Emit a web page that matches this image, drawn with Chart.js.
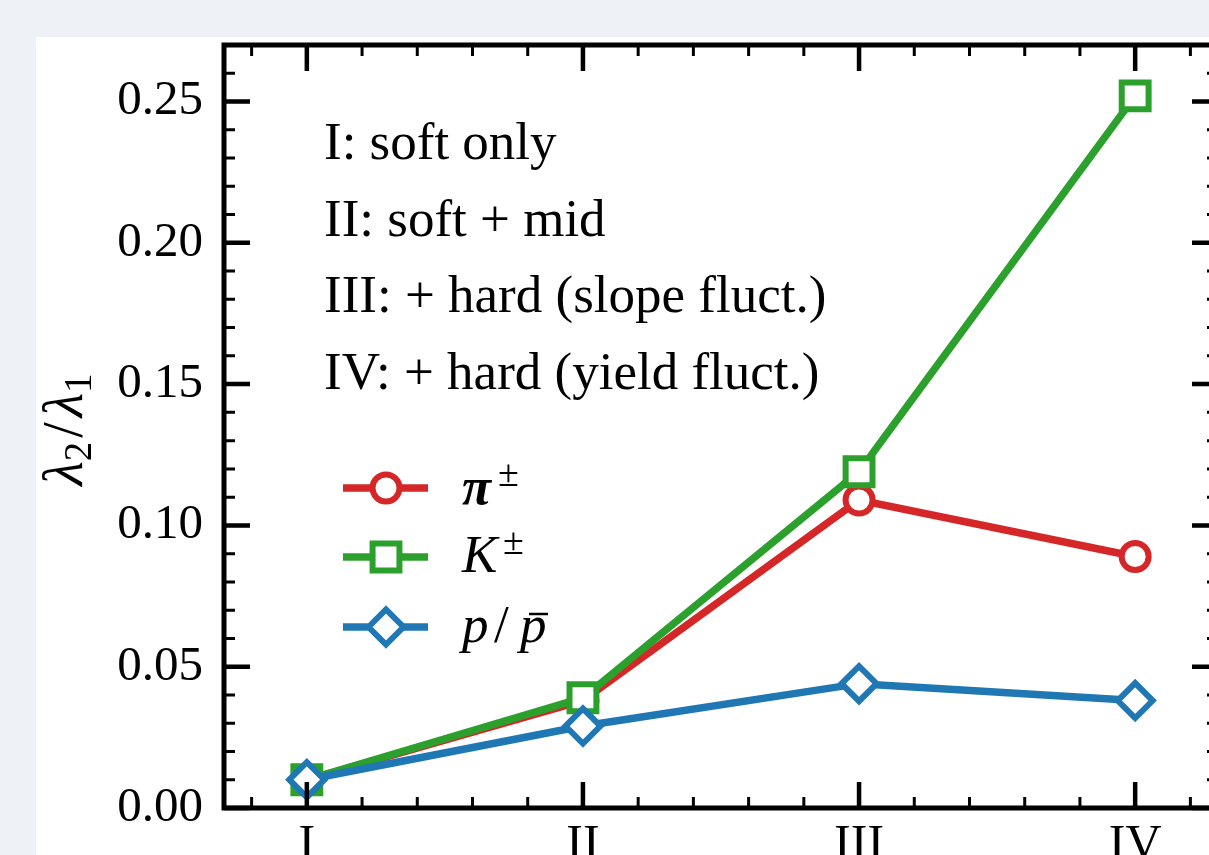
<!DOCTYPE html>
<html>
<head>
<meta charset="utf-8">
<script src="https://cdn.jsdelivr.net/npm/chart.js@4.4.1/dist/chart.umd.min.js"></script>
<style>
  html, body { margin: 0; padding: 0; background: #eef2f6; overflow: hidden; }
  .card { position: absolute; left: 36px; top: 37px; width: 1240px; height: 880px; background: #fff; }
  canvas { display: block; }
</style>
</head>
<body>
<div class="card"><canvas id="chart" width="1220" height="860"></canvas></div>
<script>
// stages of the model and ratio lambda2/lambda1 per species
const stages = ['I', 'II', 'III', 'IV'];
const stagePos = [0, 1, 2, 3];
const pionValues = [0.010, 0.038, 0.109, 0.089];
const kaonValues = [0.010, 0.039, 0.119, 0.252];
const protonValues = [0.010, 0.029, 0.044, 0.038];
const yTicks = [0, 0.05, 0.10, 0.15, 0.20, 0.25];
const notes = [
    'I: soft only',
    'II: soft + mid',
    'III: + hard (slope fluct.)',
    'IV: + hard (yield fluct.)'
];

const SERIF = '"Liberation Serif", "Times New Roman", serif';
const RED = '#d62728', GREEN = '#2ca02c', BLUE = '#1f77b4';

function toPoints(values) {
    return values.map((v, i) => ({ x: stagePos[i], y: v }));
}

function series(label, values, color, style, radius, order) {
    return {
        label: label,
        data: toPoints(values),
        borderColor: color,
        borderWidth: 7.5,
        pointStyle: style,
        pointRadius: radius,
        pointBorderWidth: 6,
        pointBackgroundColor: '#fff',
        pointBorderColor: color,
        tension: 0,
        order: order,
        clip: false
    };
}

const datasets = [
    series('pi', pionValues, RED, 'circle', 13.5, 2),
    series('K', kaonValues, GREEN, 'rect', 19, 1),
    series('p', protonValues, BLUE, 'rectRot', 17.5, 0)
];

// axes frame with inward ticks on all four sides
const framePlugin = {
    id: 'frame',
    afterDatasetsDraw(chart) {
        const { ctx, chartArea: a, scales: { x, y } } = chart;
        ctx.save();
        ctx.strokeStyle = '#000';
        ctx.lineCap = 'butt';

        const vTick = (px, len) => {
            ctx.beginPath();
            ctx.moveTo(px, a.bottom); ctx.lineTo(px, a.bottom - len);
            ctx.moveTo(px, a.top); ctx.lineTo(px, a.top + len);
            ctx.stroke();
        };
        const hTick = (py, len) => {
            ctx.beginPath();
            ctx.moveTo(a.left, py); ctx.lineTo(a.left + len, py);
            ctx.moveTo(a.right, py); ctx.lineTo(a.right - len, py);
            ctx.stroke();
        };

        // minor
        ctx.lineWidth = 3;
        for (let k = -1; k <= 16; k++) {
            if (k % 5 === 0) continue;
            vTick(x.getPixelForValue(k * 0.2), 11);
        }
        for (let k = 1; k <= 26; k++) {
            if (k % 5 === 0) continue;
            hTick(y.getPixelForValue(k * 0.01), 11);
        }
        // major
        ctx.lineWidth = 4.5;
        stagePos.forEach(v => vTick(x.getPixelForValue(v), 26));
        yTicks.forEach(v => hTick(y.getPixelForValue(v), 26));

        ctx.lineWidth = 5;
        ctx.strokeRect(a.left, a.top, a.right - a.left, a.bottom - a.top);
        ctx.restore();
    }
};

// stage notes, legend and y label
const textPlugin = {
    id: 'texts',
    afterDraw(chart) {
        const { ctx, chartArea: a } = chart;
        ctx.save();
        ctx.fillStyle = '#000';
        ctx.textBaseline = 'alphabetic';
        ctx.textAlign = 'left';

        ctx.font = '53px ' + SERIF;
        notes.forEach((t, i) => ctx.fillText(t, a.left + 100, a.top + 114 + i * 76.5));

        // legend
        const rows = [
            { ds: datasets[0], y: a.top + 443 },
            { ds: datasets[1], y: a.top + 512 },
            { ds: datasets[2], y: a.top + 582 }
        ];
        rows.forEach(r => {
            ctx.strokeStyle = r.ds.borderColor;
            ctx.lineWidth = 7.5;
            ctx.beginPath();
            ctx.moveTo(a.left + 119, r.y);
            ctx.lineTo(a.left + 204, r.y);
            ctx.stroke();
            ctx.fillStyle = '#fff';
            ctx.lineWidth = 6;
            Chart.helpers.drawPoint(ctx, {
                pointStyle: r.ds.pointStyle,
                radius: r.ds.pointRadius,
                rotation: 0,
                borderWidth: 6
            }, a.left + 162, r.y);
        });

        ctx.fillStyle = '#000';
        const tx = a.left + 238;
        // pi
        ctx.font = 'italic bold 53px ' + SERIF;
        ctx.fillText('\u03c0', tx, rows[0].y + 16);
        ctx.font = '38px ' + SERIF;
        ctx.fillText('\u00b1', tx + 36, rows[0].y - 2);
        // K
        ctx.font = 'italic 53px ' + SERIF;
        ctx.fillText('K', tx, rows[1].y + 15);
        ctx.font = '38px ' + SERIF;
        ctx.fillText('\u00b1', tx + 41, rows[1].y - 3);
        // p / pbar
        ctx.font = 'italic 53px ' + SERIF;
        ctx.fillText('p', tx, rows[2].y + 15);
        ctx.font = '53px ' + SERIF;
        ctx.fillText('/', tx + 32, rows[2].y + 15);
        ctx.font = 'italic 53px ' + SERIF;
        ctx.fillText('p', tx + 58, rows[2].y + 15);
        ctx.lineWidth = 2.5;
        ctx.strokeStyle = '#000';
        ctx.beginPath();
        ctx.moveTo(tx + 67, rows[2].y - 13);
        ctx.lineTo(tx + 86, rows[2].y - 13);
        ctx.stroke();

        // y label: lambda_2 / lambda_1
        const parts = [
            { t: '\u03bb', f: 'italic 56px ' + SERIF, dy: 0, gap: 0 },
            { t: '2', f: '39px ' + SERIF, dy: 9, gap: 4 },
            { t: '/', f: '56px ' + SERIF, dy: 0, gap: 5 },
            { t: '\u03bb', f: 'italic 56px ' + SERIF, dy: 0, gap: 0 },
            { t: '1', f: '39px ' + SERIF, dy: 9, gap: 0 }
        ];
        let total = 0;
        parts.forEach(p => { ctx.font = p.f; p.w = ctx.measureText(p.t).width; total += p.w + p.gap; });
        ctx.translate(46, (a.top + a.bottom) / 2 + 3);
        ctx.rotate(-Math.PI / 2);
        let cx = -total / 2;
        parts.forEach(p => {
            ctx.font = p.f;
            ctx.fillText(p.t, cx, p.dy);
            cx += p.w + p.gap;
        });
        ctx.restore();
    }
};

new Chart(document.getElementById('chart'), {
    type: 'line',
    data: { datasets: datasets },
    options: {
        responsive: false,
        animation: false,
        events: [],
        layout: { autoPadding: false, padding: { top: 8, right: 38, left: 0, bottom: 0 } },
        plugins: { legend: { display: false }, tooltip: { enabled: false } },
        scales: {
            x: {
                type: 'linear',
                min: -0.3,
                max: 3.3,
                grid: { display: false, drawTicks: false },
                border: { display: false },
                afterBuildTicks: (scale) => { scale.ticks = stagePos.map(v => ({ value: v })); },
                afterFit: (scale) => {
                    scale.height = 89;
                    scale.paddingLeft = 0;
                    scale.paddingRight = 0;
                },
                ticks: {
                    color: '#000',
                    padding: 8,
                    maxRotation: 0,
                    autoSkip: false,
                    font: { family: SERIF, size: 50 },
                    callback: (v) => stages[v] ?? ''
                }
            },
            y: {
                type: 'linear',
                min: 0,
                max: 0.27,
                grid: { display: false, drawTicks: false },
                border: { display: false },
                afterBuildTicks: (scale) => { scale.ticks = yTicks.map(v => ({ value: v })); },
                afterFit: (scale) => {
                    scale.width = 188;
                    scale.paddingTop = 0;
                    scale.paddingBottom = 0;
                },
                ticks: {
                    color: '#000',
                    padding: 21,
                    autoSkip: false,
                    font: { family: SERIF, size: 49 },
                    callback: (v) => v.toFixed(2)
                }
            }
        }
    },
    plugins: [framePlugin, textPlugin]
});
</script>
</body>
</html>
